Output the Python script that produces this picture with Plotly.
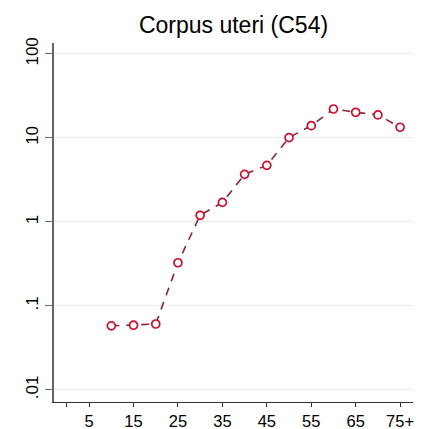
import plotly.graph_objects as go

title = "Corpus uteri (C54)"
ages = [10, 15, 20, 25, 30, 35, 40, 45, 50, 55, 60, 65, 70, 75]
rates = [0.058, 0.059, 0.061, 0.327, 1.2, 1.71, 3.69, 4.72, 10.1, 14.0, 22.1, 20.2, 18.8, 13.4]
x_tickvals = [0, 5, 15, 25, 35, 45, 55, 65, 75]
x_ticktext = ["", "5", "15", "25", "35", "45", "55", "65", "75+"]
y_tickvals = [0.01, 0.1, 1, 10, 100]
y_ticktext = [".01", ".1", "1", "10", "100"]

fig = go.Figure()
fig.add_trace(go.Scatter(
    x=ages, y=rates, mode="lines+markers",
    line=dict(color="#8a2436", width=1.6, dash="8px,7px"),
    marker=dict(symbol="circle", size=8, color="white",
                line=dict(color="#c8102e", width=1.7)),
    showlegend=False, hoverinfo="skip",
))

# page body has an 8px margin, so the figure is offset by 8px
W, H = 422, 421
fig.update_layout(
    width=W, height=H,
    paper_bgcolor="white", plot_bgcolor="white",
    margin=dict(l=46, r=17, t=35, b=27, autoexpand=False),
    title=dict(text=title, x=0.5, xref="paper", xanchor="center",
               y=1 - 17 / H, yanchor="middle",
               font=dict(family="Liberation Sans, Arial", size=23, color="black")),
    font=dict(family="Liberation Sans, Arial", color="black"),
)
fig.update_xaxes(
    range=[-2.9, 77.9], tickvals=x_tickvals, ticktext=x_ticktext,
    showgrid=False, zeroline=False, showline=True, linecolor="#333333", linewidth=1.3,
    ticks="outside", ticklen=4, tickcolor="#333333", tickwidth=1,
    tickfont=dict(size=16.5, color="black"), automargin=False,
)
fig.update_yaxes(
    type="log", range=[-2.143, 2.13], tickvals=y_tickvals, ticktext=y_ticktext,
    showgrid=True, gridcolor="#ececec", gridwidth=1.2,
    zeroline=False, showline=True, linecolor="#666666", linewidth=1.5,
    ticks="outside", ticklen=7, tickcolor="#666666", tickwidth=1,
    tickangle=-90, tickfont=dict(size=17, color="black"), automargin=False,
)

fig.write_html("out.html")
